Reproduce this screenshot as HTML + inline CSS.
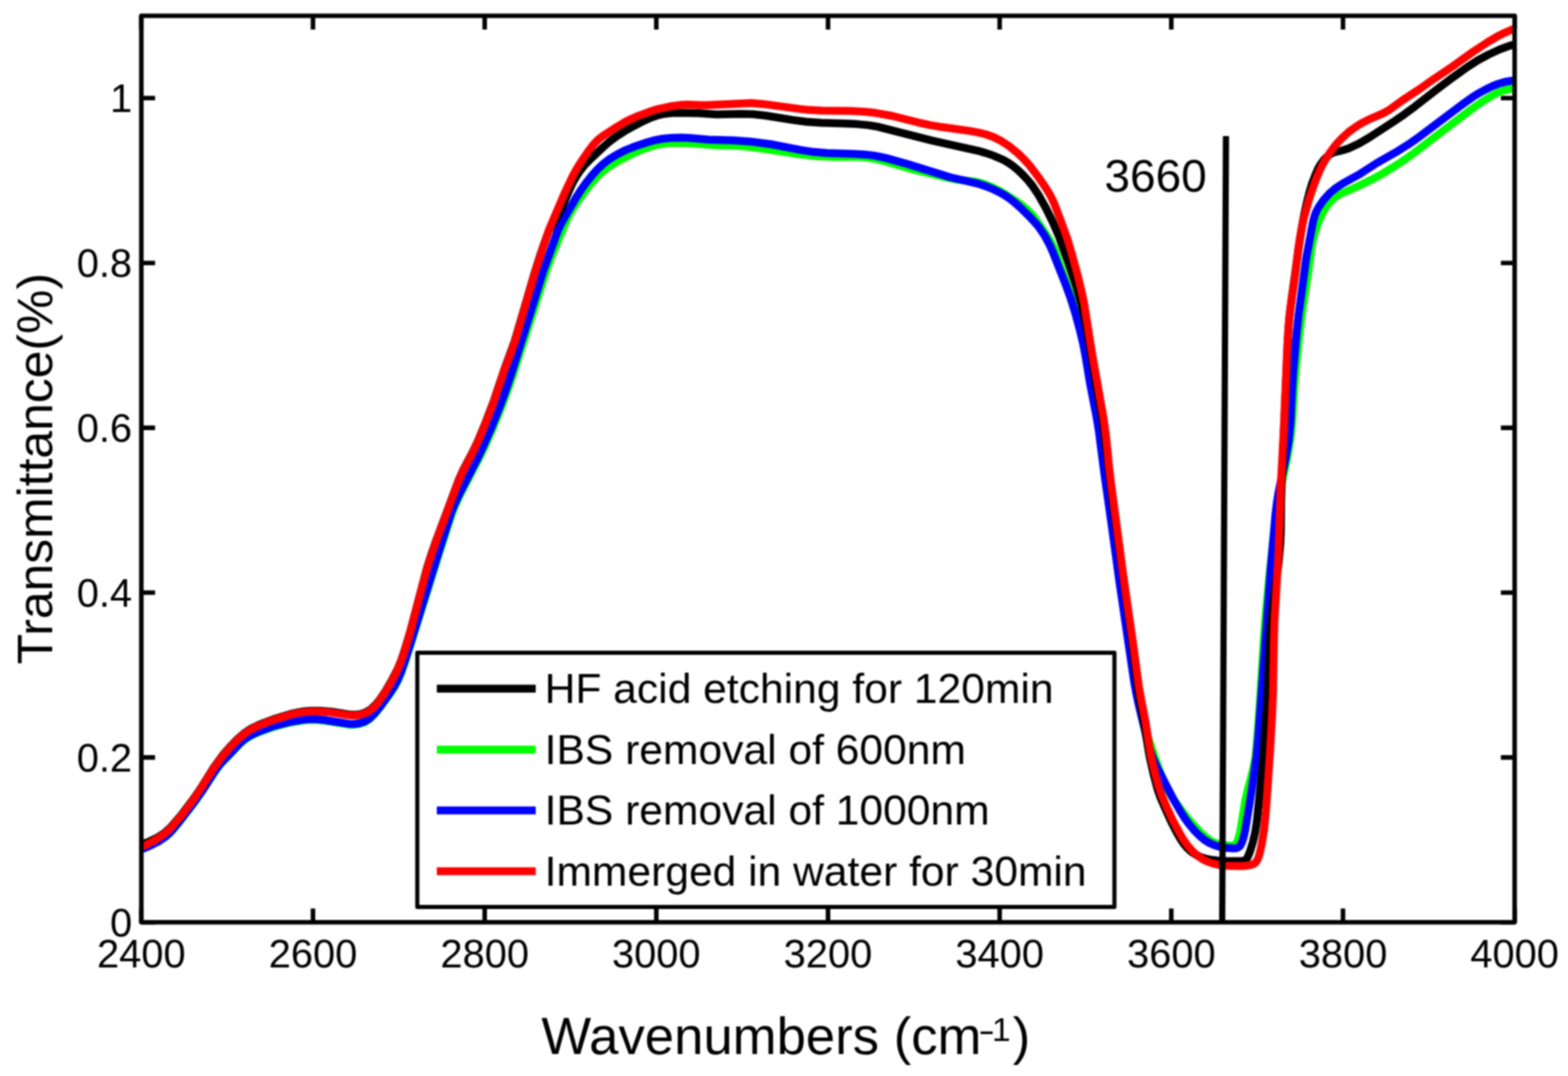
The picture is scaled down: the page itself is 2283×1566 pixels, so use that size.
<!DOCTYPE html>
<html><head><meta charset="utf-8"><style>html,body{margin:0;padding:0;background:#fff;width:2283px;height:1566px;overflow:hidden}svg{display:block;filter:blur(0.8px)}</style></head>
<body>
<svg width="2283" height="1566" viewBox="0 0 2283 1566">
<rect width="2283" height="1566" fill="#fff"/>
<defs><clipPath id="c"><rect x="205.8" y="23" width="1999.5" height="1319.3"/></clipPath></defs>
<g clip-path="url(#c)" fill="none" stroke-linejoin="round" stroke-linecap="round" stroke-width="11.5">
<path d="M206.0,1228.0 L223.6,1224.5 L233.0,1221.7 L240.0,1218.3 L243.2,1216.1 L247.6,1212.3 L253.0,1206.5 L259.4,1198.8 L282.5,1168.7 L295.2,1150.7 L313.7,1122.1 L320.7,1112.6 L350.9,1081.1 L357.0,1076.1 L363.6,1071.8 L370.7,1068.3 L379.9,1064.5 L402.6,1056.6 L421.9,1051.7 L441.6,1048.5 L451.6,1047.6 L461.5,1047.7 L473.4,1049.0 L506.9,1054.4 L514.8,1054.7 L522.5,1053.9 L529.9,1051.5 L533.3,1049.8 L538.1,1046.5 L545.2,1039.7 L554.0,1028.9 L567.0,1011.2 L574.7,999.5 L579.4,990.8 L584.1,979.8 L588.8,966.6 L596.2,943.8 L641.5,798.7 L658.2,747.3 L663.4,734.3 L670.1,719.8 L695.9,670.1 L705.6,650.4 L716.9,624.8 L728.2,597.0 L738.1,570.8 L746.6,546.2 L796.0,391.9 L803.0,373.2 L815.9,341.8 L822.9,325.2 L829.0,312.6 L833.9,303.9 L840.5,293.9 L852.2,277.7 L860.9,266.7 L867.4,259.2 L873.0,253.5 L879.0,248.3 L887.0,242.4 L900.6,234.1 L914.8,226.6 L927.5,220.7 L942.4,215.0 L953.8,211.5 L963.6,209.4 L973.5,208.3 L985.4,207.9 L1013.4,209.0 L1041.2,211.4 L1069.2,212.1 L1087.1,213.3 L1107.0,215.8 L1162.3,224.4 L1184.1,226.9 L1216.1,228.6 L1252.0,228.5 L1263.9,229.5 L1273.7,231.1 L1287.3,234.4 L1331.5,247.2 L1380.1,258.9 L1393.8,261.5 L1419.5,264.3 L1427.2,266.0 L1434.8,268.5 L1444.0,272.2 L1454.8,277.5 L1465.2,283.5 L1477.0,291.0 L1485.2,296.7 L1493.0,302.9 L1498.8,308.3 L1505.4,315.7 L1512.5,325.4 L1526.9,347.0 L1531.9,355.6 L1536.1,364.6 L1554.2,415.4 L1560.5,434.4 L1569.3,465.2 L1576.4,494.3 L1580.3,513.9 L1587.6,557.3 L1597.0,606.4 L1600.4,626.1 L1608.5,689.6 L1619.2,764.8 L1629.9,844.1 L1652.3,994.5 L1655.9,1014.1 L1660.1,1031.6 L1667.5,1058.6 L1674.4,1081.6 L1680.8,1100.5 L1688.3,1121.2 L1695.0,1137.9 L1699.9,1148.8 L1703.7,1155.8 L1709.2,1164.1 L1722.1,1181.9 L1729.5,1191.3 L1738.7,1201.8 L1749.9,1213.3 L1757.3,1219.8 L1763.8,1224.2 L1770.9,1227.4 L1778.4,1229.3 L1784.1,1229.8 L1786.2,1230.5 L1792.2,1230.7 L1796.0,1230.5 L1797.6,1229.9 L1799.1,1228.7 L1801.2,1225.5 L1803.3,1220.0 L1804.9,1214.2 L1806.8,1204.4 L1813.1,1164.9 L1816.3,1151.2 L1824.4,1120.3 L1827.8,1102.6 L1829.8,1082.8 L1833.6,1032.9 L1840.2,929.1 L1842.6,897.2 L1847.8,841.5 L1854.7,777.8 L1858.5,748.1 L1862.2,724.4 L1865.6,706.7 L1875.1,661.7 L1879.2,636.0 L1881.4,614.1 L1884.5,564.2 L1887.0,534.3 L1892.0,484.6 L1896.2,450.9 L1904.8,395.5 L1910.1,355.9 L1913.8,340.4 L1918.8,325.2 L1924.3,312.4 L1928.2,305.4 L1931.5,300.5 L1935.1,295.7 L1939.0,291.4 L1943.4,287.5 L1946.6,285.2 L1953.4,281.5 L1971.6,273.7 L1998.6,260.8 L2012.6,253.0 L2036.4,238.3 L2048.0,230.4 L2062.6,219.8 L2140.5,160.4 L2156.8,148.9 L2170.3,140.3 L2180.8,134.7 L2190.1,131.3 L2199.7,129.4 L2210.0,129.0" stroke="#00ff00"/>
<path d="M206.0,1235.0 L207.4,1235.3 L210.9,1234.2 L221.9,1229.2 L230.7,1224.6 L240.6,1218.0 L247.9,1211.3 L260.7,1196.1 L283.8,1165.9 L295.3,1149.5 L313.7,1121.0 L319.6,1113.0 L324.8,1107.1 L336.0,1095.9 L349.6,1081.4 L355.5,1076.2 L362.0,1071.8 L369.0,1068.1 L376.4,1064.9 L389.4,1059.9 L400.8,1056.1 L420.1,1051.1 L441.8,1047.4 L451.7,1046.6 L461.7,1046.8 L473.6,1048.0 L507.1,1053.4 L514.9,1053.7 L522.6,1052.8 L530.0,1050.5 L533.4,1048.7 L538.2,1045.4 L545.3,1038.6 L552.8,1029.4 L564.6,1013.2 L573.4,999.9 L579.1,989.4 L583.7,978.3 L589.0,963.2 L598.1,934.7 L640.0,799.0 L656.4,747.5 L661.5,734.5 L668.1,720.0 L693.7,670.2 L703.2,650.3 L715.2,622.8 L727.8,591.3 L736.1,568.7 L744.3,544.1 L771.3,458.2 L790.7,395.1 L811.1,338.7 L814.1,331.4 L817.6,324.2 L838.6,287.9 L846.1,276.1 L853.1,266.4 L861.8,255.4 L869.8,246.5 L878.6,238.3 L886.4,232.2 L898.2,224.8 L910.7,218.5 L925.6,212.6 L942.6,207.0 L954.2,203.8 L964.0,202.0 L975.9,200.8 L991.8,200.2 L1003.8,200.7 L1031.7,203.2 L1067.6,204.2 L1091.6,205.9 L1121.3,209.7 L1166.5,218.4 L1184.3,221.1 L1204.2,222.8 L1244.1,224.0 L1260.1,224.9 L1274.0,226.6 L1289.6,229.9 L1322.3,239.0 L1383.5,258.0 L1424.3,267.4 L1435.7,271.2 L1446.7,275.8 L1455.7,280.2 L1462.6,284.1 L1469.3,288.5 L1477.2,294.6 L1486.1,302.6 L1497.5,313.8 L1505.7,322.5 L1512.2,330.1 L1521.2,343.3 L1528.7,357.4 L1533.5,368.3 L1551.9,414.8 L1559.3,435.5 L1565.8,456.5 L1572.1,479.7 L1577.2,501.1 L1580.6,518.8 L1587.5,560.2 L1596.3,605.3 L1599.9,627.0 L1608.1,690.5 L1618.8,765.7 L1629.9,847.0 L1651.2,991.4 L1654.4,1009.1 L1657.8,1024.8 L1670.9,1079.2 L1674.8,1092.6 L1679.6,1105.7 L1685.4,1118.5 L1709.3,1164.7 L1718.3,1180.2 L1724.7,1190.4 L1731.7,1200.1 L1739.4,1209.2 L1746.4,1216.3 L1754.0,1222.6 L1760.7,1226.8 L1767.9,1230.1 L1775.4,1232.3 L1785.2,1234.1 L1797.1,1234.7 L1801.0,1234.2 L1802.8,1233.5 L1805.6,1231.1 L1808.3,1225.9 L1810.8,1218.3 L1813.0,1208.6 L1821.9,1153.3 L1829.6,1099.8 L1832.6,1066.0 L1850.1,828.6 L1857.0,748.9 L1859.2,731.1 L1861.8,715.3 L1872.4,664.4 L1876.4,640.7 L1878.9,614.9 L1881.3,564.9 L1883.1,539.0 L1887.1,493.2 L1890.6,459.3 L1901.8,376.1 L1910.9,327.0 L1912.6,319.2 L1915.0,311.6 L1917.3,306.2 L1920.2,301.0 L1927.0,291.2 L1936.3,280.9 L1945.5,273.2 L1955.5,266.7 L1978.2,254.3 L2005.1,237.0 L2034.7,220.2 L2049.9,210.7 L2066.3,199.2 L2128.6,152.3 L2144.9,140.7 L2153.4,135.5 L2163.9,129.7 L2172.9,125.4 L2180.3,122.4 L2185.9,120.6 L2193.7,118.7 L2199.5,117.8 L2210.0,117.0" stroke="#0000ff"/>
<path d="M206.0,1228.0 L210.0,1227.5 L213.8,1226.4 L229.9,1218.6 L239.8,1212.1 L248.6,1204.0 L264.2,1185.8 L281.1,1163.5 L291.3,1148.7 L310.4,1118.2 L324.5,1098.8 L335.0,1086.7 L346.1,1075.3 L355.1,1067.5 L363.3,1061.9 L370.3,1058.1 L377.6,1054.7 L398.1,1046.8 L422.9,1039.2 L432.6,1037.0 L440.5,1035.6 L452.4,1034.5 L466.4,1034.5 L482.3,1035.8 L509.9,1040.1 L517.7,1040.3 L525.4,1039.2 L532.7,1036.7 L539.3,1032.7 L546.5,1026.1 L552.8,1018.4 L561.7,1005.1 L570.7,989.5 L579.0,973.6 L584.3,960.7 L590.0,943.6 L597.4,918.7 L621.4,827.8 L626.7,810.6 L633.9,789.8 L668.1,698.0 L674.7,683.4 L688.7,656.9 L695.6,642.5 L706.3,616.7 L718.5,584.9 L734.4,537.5 L749.5,496.2 L777.5,400.2 L787.7,367.8 L796.3,343.3 L799.3,335.9 L802.9,328.8 L813.2,311.8 L816.9,304.8 L829.4,275.4 L834.6,264.6 L839.6,256.0 L845.2,247.8 L851.5,240.0 L858.4,232.8 L877.3,215.0 L887.8,205.8 L897.4,198.6 L909.2,191.1 L923.1,183.3 L937.4,176.0 L948.3,171.1 L957.7,167.8 L965.4,166.0 L975.3,164.7 L985.2,164.3 L1003.2,164.4 L1017.2,164.8 L1043.0,166.6 L1079.0,165.7 L1097.0,166.2 L1114.8,168.2 L1154.3,174.6 L1174.1,177.2 L1196.1,178.8 L1230.0,179.7 L1248.0,180.6 L1263.9,182.1 L1277.7,184.4 L1357.2,204.6 L1423.5,219.3 L1435.1,222.6 L1446.4,226.4 L1461.0,232.8 L1467.9,236.7 L1474.5,241.3 L1482.2,247.6 L1489.4,254.5 L1496.2,261.8 L1502.5,269.5 L1511.4,282.7 L1522.3,301.9 L1532.9,323.4 L1541.6,343.6 L1555.2,381.2 L1567.2,417.2 L1573.8,440.3 L1579.2,463.7 L1586.9,504.9 L1595.6,558.2 L1604.1,605.5 L1607.2,625.2 L1619.3,724.5 L1646.9,922.6 L1657.5,1007.9 L1665.8,1053.2 L1673.7,1100.5 L1679.8,1127.8 L1685.5,1149.0 L1690.2,1162.2 L1698.2,1180.5 L1705.7,1196.9 L1713.1,1211.1 L1719.0,1221.5 L1723.4,1228.0 L1728.5,1234.1 L1734.3,1239.4 L1740.8,1243.8 L1747.9,1247.2 L1755.4,1249.7 L1763.2,1251.3 L1773.1,1252.4 L1787.1,1253.2 L1809.0,1253.0 L1812.6,1252.3 L1814.0,1251.2 L1816.3,1248.2 L1820.1,1239.0 L1824.2,1225.6 L1827.8,1210.0 L1830.1,1194.2 L1839.2,1106.7 L1845.7,1010.9 L1848.5,936.9 L1850.2,909.0 L1853.1,881.1 L1861.6,819.7 L1864.1,791.9 L1864.9,771.9 L1865.3,729.9 L1866.1,703.9 L1874.6,504.1 L1875.9,480.1 L1877.5,460.2 L1880.4,436.4 L1891.4,357.1 L1895.7,329.5 L1898.6,313.7 L1902.4,296.1 L1906.3,280.6 L1910.3,267.2 L1915.3,254.2 L1919.3,245.1 L1922.3,239.9 L1928.2,231.8 L1932.5,227.7 L1935.6,225.2 L1938.9,223.2 L1942.5,221.7 L1954.0,219.0 L1963.5,216.0 L1978.0,209.3 L1993.5,200.2 L2030.4,176.2 L2043.6,167.2 L2059.7,155.3 L2091.3,130.7 L2115.3,112.7 L2136.4,97.6 L2151.5,87.9 L2167.4,79.4 L2183.7,71.9 L2198.7,66.4 L2206.4,64.5 L2210.0,64.0" stroke="#000000"/>
<path d="M206.0,1232.0 L207.5,1232.0 L210.9,1230.5 L223.3,1224.0 L231.9,1218.9 L241.5,1211.8 L250.1,1203.6 L265.5,1185.2 L281.2,1164.5 L291.3,1149.6 L310.4,1119.1 L324.6,1099.8 L333.7,1089.2 L344.7,1077.6 L353.6,1069.7 L361.7,1063.9 L368.6,1060.0 L375.8,1056.5 L394.4,1049.1 L421.1,1040.7 L430.7,1038.3 L438.6,1036.9 L450.5,1035.6 L464.5,1035.4 L480.4,1036.6 L504.0,1040.4 L511.9,1041.3 L519.7,1041.1 L527.4,1039.7 L534.5,1036.8 L537.8,1034.8 L542.4,1031.1 L546.6,1027.0 L550.4,1022.5 L558.5,1011.1 L566.8,997.4 L576.4,979.9 L581.4,969.0 L585.7,957.8 L591.2,940.7 L597.9,917.7 L616.6,846.1 L624.9,817.2 L635.9,785.1 L664.5,708.2 L673.0,687.9 L688.7,657.9 L696.4,641.6 L708.6,612.0 L719.9,582.1 L734.4,538.4 L745.7,508.5 L750.2,495.2 L777.5,401.1 L791.5,357.3 L800.0,332.7 L822.0,281.3 L834.0,256.0 L839.8,245.5 L846.2,235.3 L856.3,220.5 L863.5,211.0 L870.3,203.8 L878.1,197.6 L894.8,186.7 L910.2,177.5 L919.1,173.0 L930.1,168.3 L947.0,162.1 L958.5,158.6 L976.0,154.8 L993.8,152.5 L1001.8,152.2 L1019.7,153.0 L1029.7,153.0 L1093.5,150.1 L1111.4,151.4 L1164.9,158.6 L1178.8,160.1 L1196.8,160.9 L1238.8,161.6 L1260.8,162.8 L1274.7,164.3 L1298.3,168.5 L1335.1,177.8 L1354.6,182.1 L1370.4,184.8 L1414.0,190.9 L1425.7,193.1 L1435.4,195.5 L1446.6,199.5 L1457.3,204.9 L1469.0,212.5 L1481.4,222.5 L1490.1,230.8 L1499.4,241.2 L1510.3,255.5 L1521.8,271.9 L1529.0,283.8 L1534.3,294.5 L1545.0,322.5 L1553.8,347.0 L1559.6,366.1 L1569.1,400.8 L1574.8,424.1 L1578.5,441.7 L1589.4,510.9 L1605.8,603.4 L1608.6,621.2 L1610.8,639.1 L1614.9,680.9 L1618.6,710.6 L1636.0,841.5 L1648.9,930.5 L1658.3,999.9 L1661.4,1017.6 L1668.3,1053.0 L1673.3,1086.6 L1675.8,1100.4 L1680.7,1121.8 L1687.0,1144.9 L1691.6,1158.1 L1698.6,1174.7 L1707.9,1194.6 L1717.3,1212.3 L1723.4,1222.6 L1729.2,1230.7 L1735.7,1238.2 L1743.0,1244.9 L1751.1,1250.5 L1758.2,1254.1 L1765.6,1256.7 L1775.3,1258.8 L1785.2,1259.9 L1809.2,1260.5 L1821.0,1259.0 L1824.7,1257.8 L1826.4,1256.8 L1827.9,1255.6 L1830.2,1252.4 L1831.9,1248.9 L1833.8,1243.2 L1836.9,1229.5 L1840.5,1207.8 L1843.4,1178.0 L1849.3,1092.2 L1852.0,1044.2 L1853.5,1008.3 L1854.9,928.3 L1855.8,900.3 L1861.5,804.5 L1864.4,714.5 L1868.9,630.7 L1874.6,498.8 L1876.4,470.8 L1878.9,447.0 L1885.3,403.5 L1890.6,359.8 L1893.0,344.0 L1898.0,318.5 L1905.5,291.5 L1911.2,274.4 L1917.5,257.6 L1923.0,244.7 L1928.7,234.2 L1937.4,220.7 L1945.9,209.6 L1954.0,200.9 L1964.4,191.5 L1975.8,183.4 L1984.3,178.3 L1993.3,173.8 L2013.4,165.1 L2022.1,160.4 L2041.4,146.4 L2066.5,129.9 L2087.7,114.9 L2115.9,95.9 L2145.2,75.0 L2167.0,60.8 L2179.0,53.7 L2187.9,49.1 L2198.8,44.2 L2210.0,40.0" stroke="#ff0000"/>
</g>
<path d="M1785,198 L1779.5,1345" stroke="#000" stroke-width="9" fill="none"/>
<g fill="none" stroke="#000" stroke-width="6.6" stroke-linejoin="round" stroke-linecap="butt">
<rect x="205.8" y="23" width="1999.5" height="1319.3"/>
<path d="M205.8,1342.3V1322.3M205.8,23V43M455.7,1342.3V1322.3M455.7,23V43M705.7,1342.3V1322.3M705.7,23V43M955.6,1342.3V1322.3M955.6,23V43M1205.6,1342.3V1322.3M1205.6,23V43M1455.5,1342.3V1322.3M1455.5,23V43M1705.4,1342.3V1322.3M1705.4,23V43M1955.4,1342.3V1322.3M1955.4,23V43M2205.3,1342.3V1322.3M2205.3,23V43M205.8,1342.3H225.8M2205.3,1342.3H2185.3M205.8,1102.4H225.8M2205.3,1102.4H2185.3M205.8,862.5H225.8M2205.3,862.5H2185.3M205.8,622.6H225.8M2205.3,622.6H2185.3M205.8,382.7H225.8M2205.3,382.7H2185.3M205.8,142.8H225.8M2205.3,142.8H2185.3"/>
</g>
<g font-family="Liberation Sans, Arial, sans-serif" font-size="58" fill="#000">
<text x="205.8" y="1407.5" text-anchor="middle">2400</text>
<text x="455.7" y="1407.5" text-anchor="middle">2600</text>
<text x="705.7" y="1407.5" text-anchor="middle">2800</text>
<text x="955.6" y="1407.5" text-anchor="middle">3000</text>
<text x="1205.6" y="1407.5" text-anchor="middle">3200</text>
<text x="1455.5" y="1407.5" text-anchor="middle">3400</text>
<text x="1705.4" y="1407.5" text-anchor="middle">3600</text>
<text x="1955.4" y="1407.5" text-anchor="middle">3800</text>
<text x="2205.3" y="1407.5" text-anchor="middle">4000</text>
<text x="192.4" y="1362.8" text-anchor="end">0</text>
<text x="192.4" y="1122.9" text-anchor="end">0.2</text>
<text x="192.4" y="883.0" text-anchor="end">0.4</text>
<text x="192.4" y="643.1" text-anchor="end">0.6</text>
<text x="192.4" y="403.2" text-anchor="end">0.8</text>
<text x="192.4" y="163.3" text-anchor="end">1</text>
</g>
<text x="0" y="0" transform="translate(75.5,966.8) rotate(-90)" font-family="Liberation Sans, Arial, sans-serif" font-size="72.5">Transmittance(%)</text>
<text x="788.3" y="1533.5" font-family="Liberation Sans, Arial, sans-serif" font-size="76.7">Wavenumbers (cm<tspan x="1424.5" y="1516" font-size="49" textLength="24" lengthAdjust="spacingAndGlyphs">-</tspan><tspan x="1444.3" y="1515.2" font-size="49">1</tspan><tspan x="1474.5" y="1533.5">)</tspan></text>
<text x="1608" y="279" font-family="Liberation Sans, Arial, sans-serif" font-size="67">3660</text>
<rect x="607.6" y="950" width="1015" height="370" fill="#fff" stroke="#000" stroke-width="6" stroke-linejoin="round"/>
<path d="M636,1002.3H780" stroke="#000000" stroke-width="11.5"/>
<text x="793" y="1023.2" font-family="Liberation Sans, Arial, sans-serif" font-size="62">HF acid etching for 120min</text>
<path d="M636,1090.9H780" stroke="#00ff00" stroke-width="11.5"/>
<text x="793" y="1111.8" font-family="Liberation Sans, Arial, sans-serif" font-size="62">IBS removal of 600nm</text>
<path d="M636,1179.5H780" stroke="#0000ff" stroke-width="11.5"/>
<text x="793" y="1200.4" font-family="Liberation Sans, Arial, sans-serif" font-size="62">IBS removal of 1000nm</text>
<path d="M636,1268.1H780" stroke="#ff0000" stroke-width="11.5"/>
<text x="793" y="1289.0" font-family="Liberation Sans, Arial, sans-serif" font-size="62">Immerged in water for 30min</text>
</svg>
</body></html>
